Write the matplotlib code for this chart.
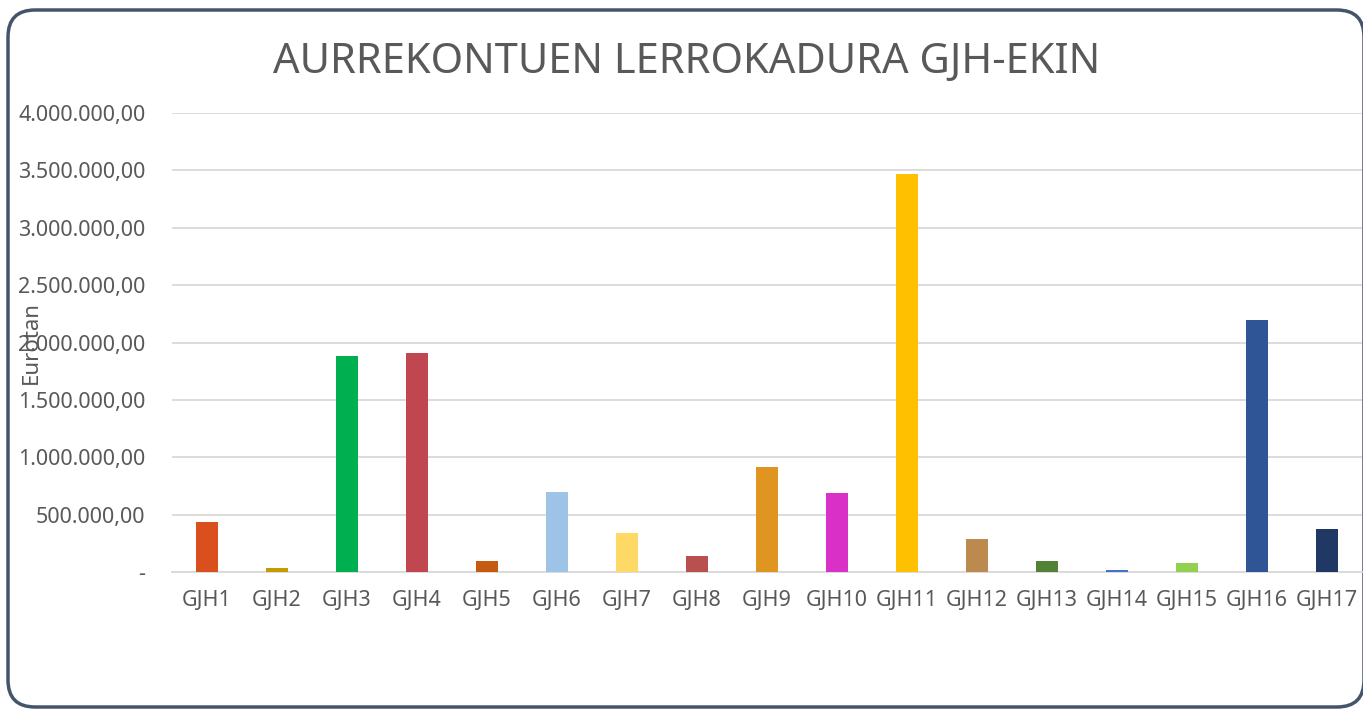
import matplotlib
matplotlib.use("Agg")
import matplotlib.pyplot as plt
from matplotlib.patches import FancyBboxPatch
from matplotlib.transforms import IdentityTransform
from matplotlib.ticker import FuncFormatter

categories = ["GJH1", "GJH2", "GJH3", "GJH4", "GJH5", "GJH6", "GJH7", "GJH8", "GJH9",
              "GJH10", "GJH11", "GJH12", "GJH13", "GJH14", "GJH15", "GJH16", "GJH17"]
values = [435000, 32000, 1882000, 1908000, 96000, 697000, 340000, 139000, 915000,
          688000, 3468000, 288000, 96000, 17000, 78000, 2196000, 375000]
colors = ["#D9501E", "#C49A00", "#00B050", "#C0464F", "#C55A11", "#9DC3E6", "#FFD966",
          "#B85050", "#E09520", "#D930C8", "#FFC000", "#BC8A4F", "#538135", "#4472C4",
          "#92D050", "#2F5597", "#1F3864"]
yticks = [0, 500000, 1000000, 1500000, 2000000, 2500000, 3000000, 3500000, 4000000]
title = "AURREKONTUEN LERROKADURA GJH-EKIN"
ylabel = "Eurotan"

plt.rcParams['font.family'] = ['Noto Sans', 'DejaVu Sans']
W, H = 1363, 709
fig = plt.figure(figsize=(W / 100, H / 100), dpi=100)

# rounded frame in pixel coordinates (origin bottom-left)
frame = FancyBboxPatch((8, 2), 1364 - 8, 699 - 2,
                       boxstyle="round,pad=0,rounding_size=27",
                       transform=IdentityTransform(), facecolor="white",
                       edgecolor="#44546A", linewidth=2.5, zorder=-5)
fig.patches.append(frame)

ax = fig.add_axes([172 / W, 1 - 572 / H, (1362 - 172) / W, (572 - 113) / H])
ax.set_zorder(2)
ax.set_facecolor("none")
x = range(len(categories))
ax.bar(x, values, width=0.32, color=colors, zorder=3)
ax.set_xlim(-0.5, len(categories) - 0.5)
ax.set_ylim(0, 4000000)
ax.set_yticks(yticks)


def fmt(v, pos):
    if v == 0:
        return "-"
    s = f"{int(v):,}".replace(",", ".")
    return s + ",00"


ax.yaxis.set_major_formatter(FuncFormatter(fmt))
ax.set_xticks(list(x))
ax.set_xticklabels(categories)
ax.grid(axis="y", color="#D9D9D9", linewidth=1.3, zorder=0)
for s in ["top", "right", "left"]:
    ax.spines[s].set_visible(False)
ax.spines["bottom"].set_color("#D9D9D9")
ax.spines["bottom"].set_linewidth(1.3)
ax.tick_params(axis="both", length=0, labelcolor="#595959", labelsize=15.5)
ax.tick_params(axis="y", pad=19)
ax.tick_params(axis="x", pad=13)

fig.text(687 / W, 1 - 62 / H, title, ha="center", va="center", fontsize=30,
         color="#595959")
fig.text(31 / W, 1 - 343 / H, ylabel, ha="center", va="center", rotation=90,
         fontsize=16, color="#595959")

fig.savefig("out.png", dpi=100)
